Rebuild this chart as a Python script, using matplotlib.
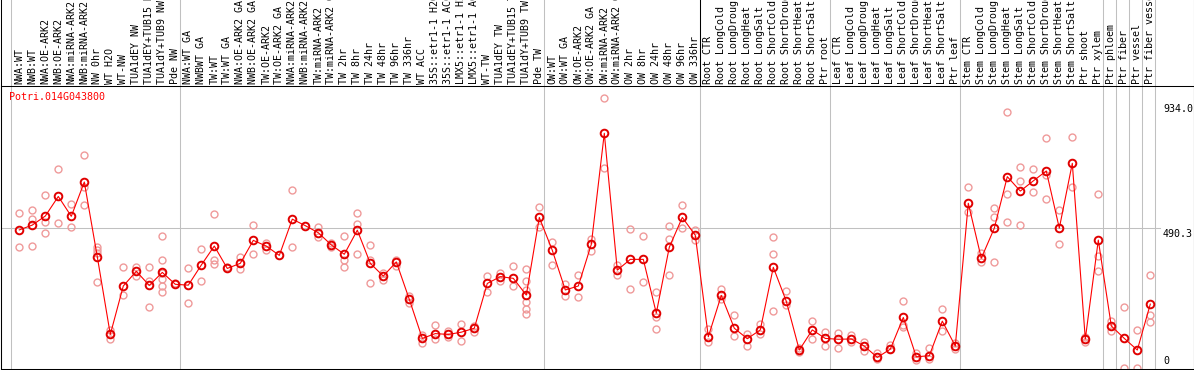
'''
plot.py

Expression profile of one poplar gene across sample conditions:
replicates as light circles, means joined by a red line.
'''
import matplotlib
matplotlib.use('Agg')
import numpy as np
import matplotlib.pyplot as plt
import matplotlib.transforms as mtransforms
from matplotlib.lines import Line2D

############################################################################
## data
gene = "Potri.014G043800"

samples = [
    # NW group
    "NWA:WT", "NWB:WT", "NWA:OE-ARK2", "NWB:OE-ARK2", "NWA:miRNA-ARK2",
    "NWB:miRNA-ARK2", "NW 0hr", "WT H2O", "WT-NW", "TUA1dEY NW",
    "TUA1dEY+TUB15 NW", "TUA1dY+TUB9 NW", "Pde NW",
    # TW group
    "NWA:WT GA", "NWBWT GA", "TW:WT", "TW:WT GA", "NWA:OE-ARK2 GA",
    "NWB:OE-ARK2 GA", "TW:OE-ARK2", "TW:OE-ARK2 GA", "NWA:miRNA-ARK2 GA",
    "NWB:miRNA-ARK2 GA", "TW:miRNA-ARK2", "TW:miRNA-ARK2 GA", "TW 2hr",
    "TW 8hr", "TW 24hr", "TW 48hr", "TW 96hr", "TW 336hr", "WT ACC",
    "35S::etr1-1 H2O", "35S::etr1-1 ACC", "LMX5::etr1-1 H2O",
    "LMX5::etr1-1 ACC", "WT-TW", "TUA1dEY TW", "TUA1dEY+TUB15 TW",
    "TUA1dY+TUB9 TW", "Pde TW",
    # OW group
    "OW:WT", "OW:WT GA", "OW:OE-ARK2", "OW:OE-ARK2 GA", "OW:miRNA-ARK2",
    "OW:miRNA-ARK2 GA", "OW 2hr", "OW 8hr", "OW 24hr", "OW 48hr", "OW 96hr",
    "OW 336hr",
    # root
    "Root CTR", "Root LongCold", "Root LongDrought", "Root LongHeat",
    "Root LongSalt", "Root ShortCold", "Root ShortDrought", "Root ShortHeat",
    "Root ShortSalt", "Ptr root",
    # leaf
    "Leaf CTR", "Leaf LongCold", "Leaf LongDrought", "Leaf LongHeat",
    "Leaf LongSalt", "Leaf ShortCold", "Leaf ShortDrought", "Leaf ShortHeat",
    "Leaf ShortSalt", "Ptr leaf",
    # stem
    "Stem CTR", "Stem LongCold", "Stem LongDrought", "Stem LongHeat",
    "Stem LongSalt", "Stem ShortCold", "Stem ShortDrought", "Stem ShortHeat",
    "Stem ShortSalt", "Ptr shoot", "Ptr xylem",
    # wood cell types
    "Ptr phloem", "Ptr fiber", "Ptr vessel", "Ptr fiber vessel",
]

group_sizes = [13, 28, 12, 10, 10, 11, 1, 1, 1, 1]

means = [485, 502, 534, 603, 533, 654, 390, 116, 287, 339,
         289, 335, 293, 290, 361, 428, 349, 367, 448, 428,
         395, 523, 500, 475, 432, 399, 484, 367, 322, 372,
         240, 102, 119, 116, 124, 138, 296, 320, 314, 255,
         529, 413, 273, 287, 434, 826, 343, 381, 381, 191,
         424, 529, 466, 108, 254, 138, 101, 132, 353, 233,
         61, 132, 102, 99, 100, 75, 35, 64, 176, 37,
         41, 163, 75, 579, 385, 491, 673, 622, 658, 693,
         491, 720, 100, 449, 146, 102, 61, 223]

reps = [[543, 424], [555, 523, 428], [607, 514, 473], [700, 508], [576, 494],
        [748, 637, 572], [426, 414, 402, 301], [132, 99], [353, 254],
        [355, 322], [354, 306, 212], [463, 379, 334, 311, 287, 265], [296],
        [349, 226], [416, 305], [541, 379, 365], [355], [390, 346],
        [502, 400], [440, 414], [], [626, 424], [], [496, 461], [440, 424],
        [463, 379, 353], [544, 505, 400], [432, 379, 296], [332, 308],
        [379, 358], [252, 228], [114, 87], [148, 101], [129, 106], [153, 94],
        [146, 126], [322, 265], [332, 304], [358, 287],
        [346, 306, 273, 230, 207, 187], [566, 494], [441, 361], [293, 253],
        [326, 247], [452, 412], [950, 702], [361, 326], [487, 275],
        [463, 300], [265, 176, 135], [499, 453, 325], [572, 491], [485, 449],
        [135, 90], [276, 240], [185, 110], [118, 75], [153, 118],
        [459, 400, 199], [269, 220], [67, 55], [163, 99], [124, 76],
        [122, 69], [114, 90], [88, 58], [52, 28], [78, 64], [234, 149, 143],
        [52, 26], [67, 28], [206, 129], [87, 64], [638, 549], [402, 373],
        [561, 532, 373], [900, 611, 512], [706, 658, 501], [700, 618],
        [808, 679, 593], [555, 435], [812, 635], [108, 88], [611, 394, 340],
        [164, 128], [212, -2], [132, -2], [326, 185, 159]]

y_marks = [934.0, 490.3, 0]

############################################################################
## figure layout (pixel based, 1194 x 370)
W, H = 1194.0, 370.0
mono = 'DejaVu Sans Mono'
fs = 7.2
grey = '#c0c0c0'

fig = plt.figure(figsize=(W / 100, H / 100), dpi=100)
ax = fig.add_axes([0.5 / W, 1.5 / H, 1193 / W, 283 / H])

## x: one unit per sample, 13 px apart, first sample at px 19.3
px0, step = 19.3, 13.0
ax.set_xlim((0.5 - px0) / step, (1193.5 - px0) / step)
ax.set_ylim(-4.2, 994.7)
ax.set_xticks([])
ax.set_yticks([])
for s in ax.spines.values():
    s.set_color('black')
    s.set_linewidth(0.75)

x = np.arange(len(samples))

## horizontal grid line at the middle value
x_grid_end = (1160 - px0) / step
ax.plot([ax.get_xlim()[0], x_grid_end], [y_marks[1]] * 2, color=grey,
        lw=0.75, zorder=1)

## group separators, running up through the label area
ext = 368.5 / 283.0
bounds = [-0.66] + list(np.cumsum(group_sizes) - 1 + 0.36)
for k, b in enumerate(bounds):
    ax.axvline(b, ymin=0, ymax=ext, color=grey, lw=0.75, clip_on=False,
               zorder=1)
    if k == 3:  # this one is drawn black above the plot
        ax.axvline(b, ymin=1, ymax=ext, color='black', lw=0.75,
                   clip_on=False, zorder=1)

## outer border continues to the top on both sides
for xf in (0.5 / W, 1193.5 / W):
    fig.add_artist(Line2D([xf, xf], [0, 1], transform=fig.transFigure,
                          color='black', lw=0.75))

############################################################################
## replicates, then means
rx = [i for i, r in enumerate(reps) for _ in r]
ry = [v for r in reps for v in r]
ax.plot(rx, ry, 'o', ms=5, mfc='none', mec='#ef9a9a', mew=1.0, zorder=2,
        clip_on=False)
ax.plot(x, means, '-', color='#ff0000', lw=0.8, zorder=3)
ax.plot(x, means, 'o', ms=5.5, mfc='none', mec='#e00000', mew=1.4,
        zorder=4)

############################################################################
## text
trans = mtransforms.blended_transform_factory(ax.transData, ax.transAxes)
for i, s in enumerate(samples):
    ax.text(i, 1.006, s, transform=trans, rotation=90, ha='center',
            va='bottom', fontsize=fs, family=mono, color='black')

ax.text(8.8 / 1193, 0.977, gene, transform=ax.transAxes, ha='left',
        va='top', fontsize=fs, family=mono, color='#ff0000')

x_lab = (1163 - px0) / step
for v in y_marks:
    va = 'bottom' if v == 0 else 'top'
    off = 6 if v == 0 else -3
    ax.text(x_lab, v + off, "%g" % v if v == 0 else "%.1f" % v,
            ha='left', va=va, fontsize=fs, family=mono, color='black')

plt.savefig('out.png', dpi=100)
